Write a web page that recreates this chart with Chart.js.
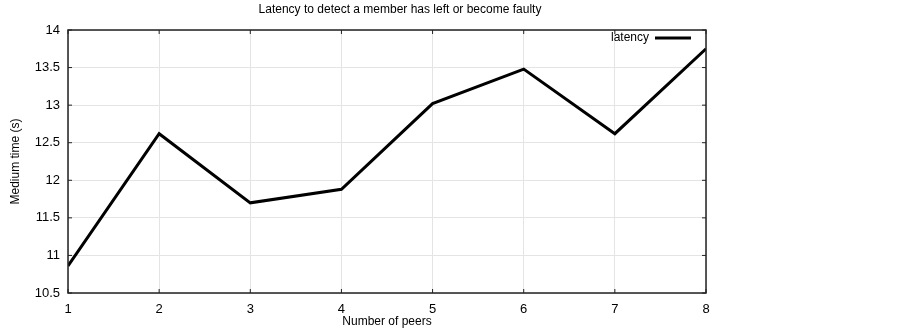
<!DOCTYPE html>
<html>
<head>
<meta charset="utf-8">
<script src="https://cdn.jsdelivr.net/npm/chart.js@4.4.0/dist/chart.umd.min.js"></script>
<style>
html,body{margin:0;padding:0;background:#fff;}
#wrap{width:902px;height:332px;position:relative;}
</style>
</head>
<body>
<div id="wrap"><canvas id="c" width="902" height="332"></canvas></div>
<script>
const chartTitle = "Latency to detect a member has left or become faulty";
const xTitle = "Number of peers";
const yTitle = "Medium time (s)";
const seriesLabel = "latency";
const peers = [1, 2, 3, 4, 5, 6, 7, 8];
const latency = [10.86, 12.62, 11.70, 11.88, 13.02, 13.48, 12.62, 13.75];
const yTicks = [10.5, 11, 11.5, 12, 12.5, 13, 13.5, 14];

const FONT = "'Liberation Sans', Arial, Helvetica, sans-serif";

const framePlugin = {
  id: 'frame',
  afterDraw(chart) {
    const {ctx, chartArea: a, scales} = chart;
    ctx.save();
    ctx.strokeStyle = '#222';
    ctx.lineWidth = 1.5;
    ctx.strokeRect(a.left, a.top, a.right - a.left, a.bottom - a.top);
    ctx.lineWidth = 1;
    const tl = 4;
    scales.x.ticks.forEach(t => {
      const px = scales.x.getPixelForValue(t.value);
      ctx.beginPath();
      ctx.moveTo(px, a.bottom); ctx.lineTo(px, a.bottom - tl);
      ctx.moveTo(px, a.top); ctx.lineTo(px, a.top + tl);
      ctx.stroke();
    });
    scales.y.ticks.forEach(t => {
      const py = scales.y.getPixelForValue(t.value);
      ctx.beginPath();
      ctx.moveTo(a.left, py); ctx.lineTo(a.left + tl, py);
      ctx.moveTo(a.right, py); ctx.lineTo(a.right - tl, py);
      ctx.stroke();
    });
    ctx.fillStyle = '#000';
    ctx.font = '12px ' + FONT;
    ctx.textAlign = 'center';
    ctx.textBaseline = 'middle';
    ctx.fillText(chartTitle, 400, 10);
    const ds = chart.data.datasets[0];
    ctx.textAlign = 'right';
    ctx.font = '12px ' + FONT;
    ctx.fillText(ds.label, 649, 38);
    ctx.strokeStyle = ds.borderColor;
    ctx.lineWidth = ds.borderWidth;
    ctx.beginPath();
    ctx.moveTo(655, 38); ctx.lineTo(691, 38);
    ctx.stroke();
    ctx.restore();
  }
};

new Chart(document.getElementById('c'), {
  type: 'line',
  data: {
    datasets: [{
      label: seriesLabel,
      data: peers.map((p, i) => ({x: p, y: latency[i]})),
      borderColor: '#000',
      borderWidth: 3,
      pointRadius: 0,
      tension: 0,
      borderJoinStyle: 'miter',
      fill: false
    }]
  },
  options: {
    responsive: false,
    animation: false,
    devicePixelRatio: 1,
    layout: {padding: {top: 30, right: 196, left: 0, bottom: 0}},
    plugins: {legend: {display: false}, title: {display: false}, tooltip: {enabled: false}},
    scales: {
      x: {
        type: 'linear', min: 1, max: 8,
        afterFit: s => { s.height = 39; },
        afterBuildTicks: s => { s.ticks = peers.map(v => ({value: v})); },
        grid: {color: '#e4e4e4', lineWidth: 1, drawTicks: false},
        border: {display: false},
        ticks: {color: '#000', font: {family: FONT, size: 13}, padding: 9, maxRotation: 0, callback: v => String(v)},
        title: {display: true, text: xTitle, color: '#000', font: {family: FONT, size: 12}, padding: {top: 0, bottom: 3}}
      },
      y: {
        type: 'linear', min: 10.5, max: 14,
        afterFit: s => { s.width = 68; },
        afterBuildTicks: s => { s.ticks = yTicks.map(v => ({value: v})); },
        grid: {color: '#e4e4e4', lineWidth: 1, drawTicks: false},
        border: {display: false},
        ticks: {color: '#000', font: {family: FONT, size: 13}, padding: 8, callback: v => String(v)},
        title: {display: true, text: yTitle, color: '#000', font: {family: FONT, size: 12}, padding: {top: 8, bottom: 0}}
      }
    }
  },
  plugins: [framePlugin]
});
</script>
</body>
</html>
